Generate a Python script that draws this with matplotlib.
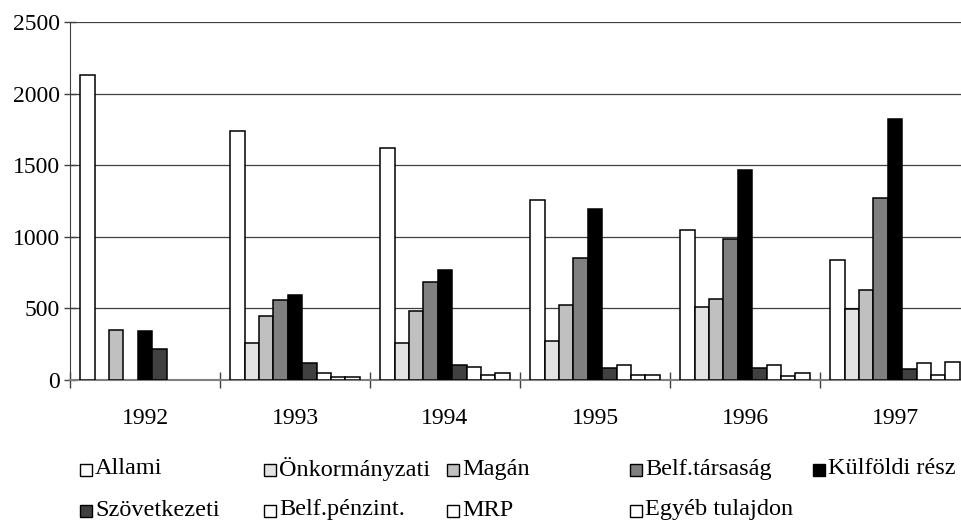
import numpy as np
import matplotlib.pyplot as plt
from matplotlib.patches import Rectangle

plt.rcParams['font.family'] = ['Liberation Serif', 'DejaVu Serif']

years = ['1992', '1993', '1994', '1995', '1996', '1997']
series = ['Allami', 'Önkormányzati', 'Magán', 'Belf.társaság', 'Külföldi rész',
          'Szövetkezeti', 'Belf.pénzint.', 'MRP', 'Egyéb tulajdon']

allami = [2130, 1740, 1620, 1260, 1050, 840]
onkormanyzati = [0, 260, 260, 270, 510, 495]
magan = [352, 445, 483, 522, 567, 627]
belf_tarsasag = [0, 562, 681, 852, 985, 1274]
kulfoldi = [340, 593, 765, 1197, 1466, 1820]
szovetkezeti = [219, 116, 105, 86, 86, 74]
belf_penzint = [0, 49, 88, 102, 105, 116]
mrp = [0, 18, 35, 32, 30, 35]
egyeb = [0, 18, 51, 32, 51, 128]

values = [allami, onkormanyzati, magan, belf_tarsasag, kulfoldi,
          szovetkezeti, belf_penzint, mrp, egyeb]
colors = ['white', '#e3e3e3', '#c0c0c0', '#808080', 'black',
          '#404040', 'white', 'white', 'white']

fig = plt.figure(figsize=(9.62, 5.25), dpi=100)
ax = fig.add_axes([70 / 962, 1 - 380 / 525, 900 / 962, 358 / 525])

x = np.arange(len(years))
w = 0.096
start = -len(series) * w / 2
for j, (vals, c) in enumerate(zip(values, colors)):
    v = np.array(vals, dtype=float)
    v[v == 0] = np.nan  # empty series draw nothing
    ax.bar(x + start + (j + 0.5) * w, v, width=w, color=c,
           edgecolor='black', linewidth=1.1, zorder=3)

ax.set_xlim(-0.5, 5.5)
ax.set_ylim(0, 2500)
ax.set_yticks(range(0, 2501, 500))
ax.yaxis.grid(True, color='#404040', linewidth=0.9, zorder=0)

ax.set_xticks(x)
ax.set_xticklabels(years, fontsize=17)
ax.set_xticks(np.arange(-0.5, 6, 1), minor=True)
ax.tick_params(axis='x', which='major', length=0, pad=20)
ax.tick_params(axis='x', which='minor', direction='inout', length=12,
               color='#404040', width=1)
ax.tick_params(axis='y', direction='inout', length=9, labelsize=17,
               color='#404040', width=1, pad=3)

for s in ['top', 'right']:
    ax.spines[s].set_visible(False)
ax.spines['left'].set_color('#404040')
ax.spines['bottom'].set_color('#808080')
ax.spines['bottom'].set_linewidth(1.5)

# legend, laid out by hand like the original (equal column pitch)
col_x = [86, 270, 453, 636, 819]
rows_y = [470, 511]
for k, (name, c) in enumerate(zip(series, colors)):
    row = 0 if k < 5 else 1
    col = k if k < 5 else k - 5
    px, py = col_x[col], rows_y[row]
    fig.patches.append(Rectangle(((px - 6) / 962, 1 - (py + 6) / 525),
                                 12 / 962, 12 / 525, facecolor=c,
                                 edgecolor='black', linewidth=1,
                                 transform=fig.transFigure, figure=fig))
    fig.text((px + 9) / 962, 1 - (py - 1) / 525, name, fontsize=17.5,
             va='center', ha='left')

fig.savefig('out.png', dpi=100)
